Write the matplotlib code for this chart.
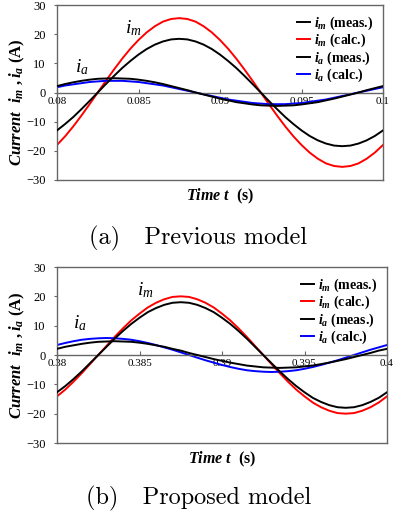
import matplotlib
matplotlib.use("Agg")
import matplotlib.pyplot as plt
import numpy as np

plt.rcParams['font.family'] = ['Liberation Serif', 'DejaVu Serif']
plt.rcParams['mathtext.fontset'] = 'custom'
plt.rcParams['mathtext.it'] = 'Liberation Serif:italic:bold'
plt.rcParams['mathtext.rm'] = 'Liberation Serif:bold'
plt.rcParams['mathtext.bf'] = 'Liberation Serif:bold'
plt.rcParams['mathtext.cal'] = 'Liberation Serif:italic'

# (a) previous model, 0.08 .. 0.1 s, one sample every 0.5 ms
t_a = np.linspace(0.08, 0.1, 41)
im_meas_a = [-13.0, -10.8, -8.4, -5.7, -2.9, 0, 2.9, 5.7, 8.4, 10.8, 13.0, 14.9, 16.4, 17.5, 18.2, 18.4,
             18.2, 17.5, 16.4, 14.9, 13.0, 10.8, 8.4, 5.7, 2.9, 0, -2.9, -5.7, -8.4, -10.8, -13.0, -14.9,
             -16.4, -17.5, -18.2, -18.4, -18.2, -17.5, -16.4, -14.9, -13.0]
im_calc_a = [-18.0, -15.0, -11.6, -7.9, -4.0, 0, 4.0, 7.9, 11.6, 15.0, 18.0, 20.6, 22.7, 24.3, 25.2, 25.5,
             25.2, 24.3, 22.7, 20.6, 18.0, 15.0, 11.6, 7.9, 4.0, 0, -4.0, -7.9, -11.6, -15.0, -18.0, -20.6,
             -22.7, -24.3, -25.2, -25.5, -25.2, -24.3, -22.7, -20.6, -18.0]
ia_meas_a = [2.2, 2.9, 3.5, 4.0, 4.4, 4.7, 4.8, 4.9, 4.8, 4.7, 4.4, 4.0, 3.5, 2.9, 2.2, 1.5, 0.8, 0,
             -0.7, -1.4, -2.1, -2.7, -3.3, -3.7, -4.1, -4.4, -4.5, -4.6, -4.5, -4.4, -4.1, -3.7, -3.3,
             -2.7, -2.1, -1.4, -0.7, 0, 0.8, 1.5, 2.2]
ia_calc_a = [1.8, 2.4, 2.8, 3.2, 3.6, 3.8, 4.0, 4.0, 4.0, 3.8, 3.6, 3.2, 2.8, 2.4, 1.8, 1.2, 0.6, 0,
             -0.6, -1.2, -1.8, -2.4, -2.8, -3.2, -3.6, -3.8, -4.0, -4.0, -4.0, -3.8, -3.6, -3.2, -2.8,
             -2.4, -1.8, -1.2, -0.6, 0, 0.6, 1.2, 1.8]

# (b) proposed model, 0.38 .. 0.4 s
t_b = np.linspace(0.38, 0.4, 41)
im_meas_b = [-12.7, -10.6, -8.2, -5.6, -2.8, 0, 2.8, 5.6, 8.2, 10.6, 12.7, 14.6, 16.0, 17.1, 17.8, 18.0,
             17.8, 17.1, 16.0, 14.6, 12.7, 10.6, 8.2, 5.6, 2.8, 0, -2.8, -5.6, -8.2, -10.6, -12.7, -14.6,
             -16.0, -17.1, -17.8, -18.0, -17.8, -17.1, -16.0, -14.6, -12.7]
im_calc_b = [-14.1, -11.8, -9.1, -6.2, -3.1, 0, 3.1, 6.2, 9.1, 11.8, 14.1, 16.2, 17.8, 19.0, 19.8, 20.0,
             19.8, 19.0, 17.8, 16.2, 14.1, 11.8, 9.1, 6.2, 3.1, 0, -3.1, -6.2, -9.1, -11.8, -14.1, -16.2,
             -17.8, -19.0, -19.8, -20.0, -19.8, -19.0, -17.8, -16.2, -14.1]
ia_meas_b = [2.1, 2.8, 3.3, 3.8, 4.2, 4.5, 4.6, 4.7, 4.6, 4.5, 4.2, 3.8, 3.3, 2.8, 2.1, 1.5, 0.7, 0,
             -0.7, -1.4, -2.0, -2.6, -3.1, -3.6, -3.9, -4.2, -4.3, -4.4, -4.3, -4.2, -3.9, -3.6, -3.1,
             -2.6, -2.0, -1.4, -0.7, 0, 0.7, 1.5, 2.1]
ia_calc_b = [3.4, 4.1, 4.7, 5.2, 5.5, 5.7, 5.8, 5.7, 5.5, 5.2, 4.7, 4.1, 3.4, 2.6, 1.8, 0.9, 0, -0.9,
             -1.8, -2.6, -3.4, -4.1, -4.7, -5.2, -5.5, -5.7, -5.8, -5.7, -5.5, -5.2, -4.7, -4.1, -3.4,
             -2.6, -1.8, -0.9, 0, 0.9, 1.8, 2.6, 3.4]

yticks = [-30, -20, -10, 0, 10, 20, 30]
ytick_labels = ['\u221230', '\u221220', '\u221210', '0', '10', '20', '30']
xticks_a = [0.08, 0.085, 0.09, 0.095, 0.1]
xtick_labels_a = ['0.08', '0.085', '0.09', '0.095', '0.1']
xticks_b = [0.38, 0.385, 0.39, 0.395, 0.4]
xtick_labels_b = ['0.38', '0.385', '0.39', '0.395', '0.4']
legend_labels = [r'$i_m$ (meas.)', r'$i_m$ (calc.)', r'$i_a$ (meas.)', r'$i_a$ (calc.)']

W, H = 397, 515
fig = plt.figure(figsize=(W / 100, H / 100), dpi=100)
frame_col = '#666666'


def panel(rect, t, im_meas, im_calc, ia_meas, ia_calc, xticks, xlabels, im_pos, ia_pos,
          ylab_y, caption, cap_y):
    ax = fig.add_axes(rect)
    l1, = ax.plot(t, im_meas, color='black', lw=1.4, zorder=3)
    l2, = ax.plot(t, im_calc, color='red', lw=1.4, zorder=2)
    l3, = ax.plot(t, ia_meas, color='black', lw=1.4, zorder=3)
    l4, = ax.plot(t, ia_calc, color='blue', lw=1.4, zorder=2)
    ax.set_xlim(xticks[0], xticks[-1])
    ax.set_ylim(-30, 30)
    for s in ax.spines.values():
        s.set_color(frame_col)
        s.set_linewidth(1.0)
    ax.spines['bottom'].set_position(('data', 0))
    ax.axhline(-30, color=frame_col, lw=1.0, clip_on=False)
    ax.set_xticks(xticks)
    ax.set_xticklabels(xlabels)
    ax.set_yticks(yticks)
    ax.set_yticklabels(ytick_labels)
    ax.tick_params(axis='x', direction='in', length=3, color=frame_col, labelsize=8, pad=3)
    ax.tick_params(axis='y', direction='out', length=2, color=frame_col, labelsize=9, pad=6)
    ax.set_ylabel(r'$Current\ \ i_m\ ,i_a$ (A)', fontsize=12, fontweight='bold')
    ax.yaxis.set_label_coords(-30 / (rect[2] * W), ylab_y)
    ax.text(0.5, -0.095, r'$Time\ t$  (s)', transform=ax.transAxes, ha='center', va='center',
            fontsize=11.5, fontweight='bold')
    ax.text(im_pos[0], im_pos[1], r'$\mathcal{i}_\mathcal{m}$', fontsize=14, ha='center', va='center')
    ax.text(ia_pos[0], ia_pos[1], r'$\mathcal{i}_\mathcal{a}$', fontsize=14, ha='center', va='center')
    ax.legend([l1, l2, l3, l4], legend_labels, loc='upper right', frameon=False,
              prop={'weight': 'bold', 'size': 10}, handlelength=0.9, handletextpad=0.3,
              labelspacing=0.0, borderaxespad=0.3)
    fig.text(0.5, cap_y, caption, family='cmr10', fontsize=17.5, ha='center', va='center')
    return ax


panel([57 / W, 1 - 180 / H, 326 / W, 175 / H], t_a, im_meas_a, im_calc_a, ia_meas_a, ia_calc_a,
      xticks_a, xtick_labels_a, (0.08466, 22.1), (0.08153, 8.7), 0.446,
      '(a)   Previous model', 1 - 238 / H)
panel([57 / W, 1 - 443 / H, 330 / W, 176 / H], t_b, im_meas_b, im_calc_b, ia_meas_b, ia_calc_b,
      xticks_b, xtick_labels_b, (0.38533, 22.2), (0.3814, 10.9), 0.5,
      '(b)   Proposed model', 1 - 498 / H)

fig.savefig('out.png', dpi=100)
